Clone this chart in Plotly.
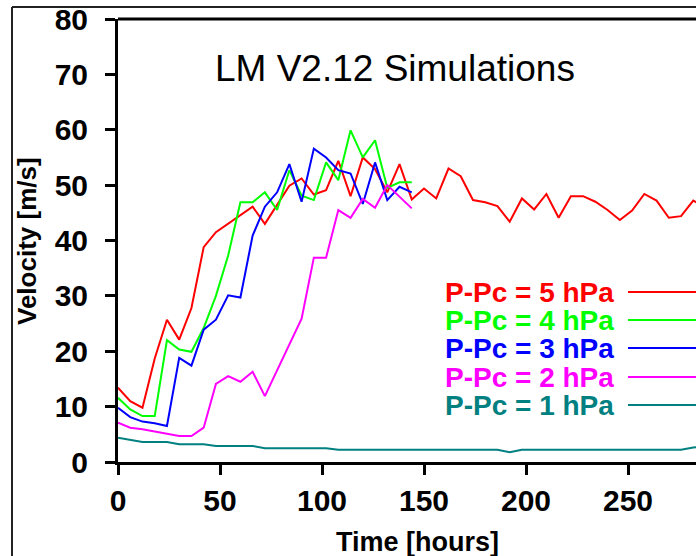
import plotly.graph_objects as go

# ---- data ----
hours = [0, 6, 12, 18, 24, 30, 36, 42, 48, 54, 60, 66, 72, 78, 84, 90, 96, 102,
         108, 114, 120, 126, 132, 138, 144, 150, 156, 162, 168, 174, 180, 186,
         192, 198, 204, 210, 216, 222, 228, 234, 240, 246, 252, 258, 264, 270,
         276, 282, 288]

v_5hpa = [13.4, 11.0, 9.8, 18.7, 25.7, 22.1, 27.8, 38.8, 41.5, 43.0, 44.5, 46.1,
          43.0, 46.5, 49.9, 51.2, 48.3, 49.1, 54.4, 48.0, 55.0, 52.9, 48.7, 53.8,
          47.4, 49.4, 47.6, 53.0, 51.6, 47.3, 46.9, 46.2, 43.4, 47.6, 45.6, 48.4,
          44.1, 48.0, 48.0, 47.0, 45.5, 43.7, 45.4, 48.4, 47.2, 44.1, 44.4, 47.2,
          46.0]

v_4hpa = [11.6, 9.5, 8.3, 8.3, 22.0, 20.3, 19.9, 24.2, 30.0, 37.3, 46.9, 46.9,
          48.7, 45.5, 52.7, 48.1, 47.3, 54.1, 50.9, 59.9, 55.0, 58.1, 49.5, 50.5,
          50.5]

v_3hpa = [9.8, 8.1, 7.3, 7.0, 6.5, 18.8, 17.4, 23.9, 25.7, 30.1, 29.7, 40.9,
          46.1, 48.7, 53.8, 47.0, 56.6, 55.0, 52.7, 52.1, 46.6, 54.1, 47.3, 49.7,
          48.7]

v_2hpa = [7.1, 6.2, 5.9, 5.5, 5.1, 4.7, 4.7, 6.2, 14.1, 15.5, 14.5, 16.3, 11.9,
          16.6, 21.1, 25.9, 36.9, 36.9, 45.5, 44.1, 47.5, 45.9, 50.0, 47.9, 45.8]

v_1hpa = [4.4, 4.0, 3.6, 3.6, 3.6, 3.2, 3.2, 3.2, 2.9, 2.9, 2.9, 2.9, 2.5, 2.5,
          2.5, 2.5, 2.5, 2.5, 2.2, 2.2, 2.2, 2.2, 2.2, 2.2, 2.2, 2.2, 2.2, 2.2,
          2.2, 2.2, 2.2, 2.2, 1.75, 2.2, 2.2, 2.2, 2.2, 2.2, 2.2, 2.2, 2.2, 2.2,
          2.2, 2.2, 2.2, 2.2, 2.2, 2.6, 2.9]

series_names = ["P-Pc = 5 hPa", "P-Pc = 4 hPa", "P-Pc = 3 hPa",
                "P-Pc = 2 hPa", "P-Pc = 1 hPa"]
series_values = [v_5hpa, v_4hpa, v_3hpa, v_2hpa, v_1hpa]
series_colors = ["#FF0000", "#00FF00", "#0000FF", "#FF00FF", "#008080"]

x_ticks = [0, 50, 100, 150, 200, 250]
y_ticks = [0, 10, 20, 30, 40, 50, 60, 70, 80]

title_text = "LM V2.12 Simulations"
x_title = "Time [hours]"
y_title = "Velocity [m/s]"

# ---- figure ----
W, H = 696, 556
ML, MR, MT, MB = 118, 0, 19, 94
pw, ph = W - ML - MR, H - MT - MB


def px_x(p):
    return (p - ML) / pw


def px_y(p):
    return (H - MB - p) / ph


fig = go.Figure()
for name, vals, col in zip(series_names, series_values, series_colors):
    fig.add_trace(go.Scatter(
        x=hours[:len(vals)], y=vals, mode="lines", name=name,
        line=dict(color=col, width=2), showlegend=False, cliponaxis=True))

tick_font = dict(family="Liberation Sans, Arial, sans-serif", size=30,
                 color="black", weight="bold")

fig.update_layout(
    width=W, height=H,
    margin=dict(l=ML, r=MR, t=MT, b=MB, pad=0),
    paper_bgcolor="white", plot_bgcolor="white",
    showlegend=False,
    xaxis=dict(range=[0, pw / 2.04], tickvals=x_ticks, showgrid=False,
               zeroline=False, showline=True, linecolor="black", linewidth=3,
               ticks="outside", ticklen=10, tickwidth=3, tickcolor="black",
               tickfont=tick_font, ticklabelstandoff=0),
    yaxis=dict(range=[0, 80], tickvals=y_ticks, showgrid=False,
               zeroline=False, showline=True, linecolor="black", linewidth=3,
               ticks="outside", ticklen=10, tickwidth=3, tickcolor="black",
               tickfont=tick_font, ticklabelstandoff=11),
)

shapes = []
# top border of plot box
shapes.append(dict(type="line", xref="paper", yref="paper",
                   x0=0, x1=1.01, y0=1, y1=1,
                   line=dict(color="black", width=3)))
# outer frame
shapes.append(dict(type="line", xref="paper", yref="paper",
                   x0=px_x(12), x1=px_x(12), y0=px_y(7), y1=px_y(560),
                   line=dict(color="#222222", width=2)))
shapes.append(dict(type="line", xref="paper", yref="paper",
                   x0=px_x(12), x1=1.01, y0=px_y(7), y1=px_y(7),
                   line=dict(color="#222222", width=2)))

annotations = []
annotations.append(dict(text=title_text, xref="paper", yref="paper",
                        x=px_x(395), y=px_y(68), xanchor="center",
                        yanchor="middle", showarrow=False,
                        font=dict(family="Liberation Sans, Arial", size=37,
                                  color="black")))
annotations.append(dict(text=x_title, xref="paper", yref="paper",
                        x=px_x(417), y=px_y(542), xanchor="center",
                        yanchor="middle", showarrow=False,
                        font=dict(family="Liberation Sans, Arial", size=27,
                                  color="black", weight="bold")))
annotations.append(dict(text=y_title, xref="paper", yref="paper",
                        x=px_x(27), y=px_y(241), xanchor="center",
                        yanchor="middle", showarrow=False, textangle=-90,
                        font=dict(family="Liberation Sans, Arial", size=26,
                                  color="black", weight="bold")))

legend_rows = [292, 320, 348, 377, 405]
for name, col, yrow in zip(series_names, series_colors, legend_rows):
    annotations.append(dict(text=name, xref="paper", yref="paper",
                            x=px_x(443), y=px_y(yrow), xanchor="left",
                            yanchor="middle", showarrow=False,
                            font=dict(family="Liberation Sans, Arial", size=28,
                                      color=col, weight="bold")))
    shapes.append(dict(type="line", xref="paper", yref="paper",
                       x0=px_x(628), x1=1.01, y0=px_y(yrow), y1=px_y(yrow),
                       line=dict(color=col, width=2)))

fig.update_layout(shapes=shapes, annotations=annotations)
fig.write_html(
    "out.html",
    config={"displayModeBar": False},
    post_script="document.body.style.margin='0';"
                "document.body.style.overflow='hidden';")
